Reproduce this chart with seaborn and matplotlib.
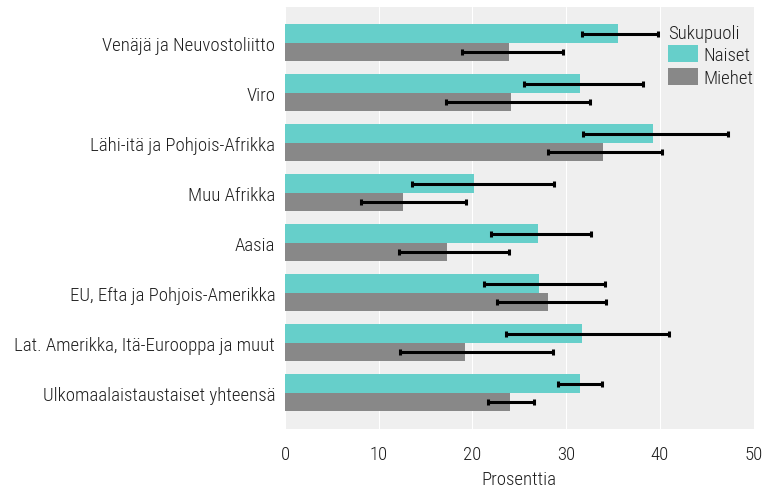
import numpy as np
import pandas as pd
import matplotlib
matplotlib.use("Agg")
import matplotlib.pyplot as plt
from matplotlib import font_manager
import seaborn as sns

categories = ["Venäjä ja Neuvostoliitto", "Viro", "Lähi-itä ja Pohjois-Afrikka", "Muu Afrikka",
              "Aasia", "EU, Efta ja Pohjois-Amerikka", "Lat. Amerikka, Itä-Eurooppa ja muut",
              "Ulkomaalaistaustaiset yhteensä"]
groups = ["Naiset", "Miehet"]

naiset = [35.5, 31.5, 39.3, 20.2, 27.0, 27.1, 31.7, 31.5]
naiset_low = [31.7, 25.5, 31.8, 13.6, 22.0, 21.2, 23.6, 29.1]
naiset_high = [39.8, 38.2, 47.3, 28.7, 32.7, 34.1, 41.0, 33.8]

miehet = [23.9, 24.1, 33.9, 12.6, 17.3, 28.1, 19.2, 24.0]
miehet_low = [18.9, 17.2, 28.1, 8.1, 12.2, 22.6, 12.3, 21.7]
miehet_high = [29.7, 32.6, 40.2, 19.3, 23.9, 34.3, 28.6, 26.6]

colors = {"Naiset": "#66CFCA", "Miehet": "#888888"}

df = pd.DataFrame({
    "alue": categories * 2,
    "Sukupuoli": ["Naiset"] * len(categories) + ["Miehet"] * len(categories),
    "arvo": naiset + miehet,
    "ala": naiset_low + miehet_low,
    "yla": naiset_high + miehet_high,
})

sns.set_style("darkgrid", {"axes.facecolor": "#EFEFEF", "grid.color": "white", "grid.linewidth": 1.3})

# narrow font if one is around, otherwise Roboto a bit smaller
installed = {f.name for f in font_manager.fontManager.ttflist}
narrow = [n for n in ["Liberation Sans Narrow", "Roboto Condensed", "Arial Narrow"] if n in installed]
if narrow:
    plt.rcParams["font.family"] = [narrow[0], "DejaVu Sans"]
    fs = 13.5
else:
    plt.rcParams["font.family"] = ["Roboto", "DejaVu Sans"]
    fs = 12
plt.rcParams["font.weight"] = "light"
plt.rcParams["axes.labelweight"] = "light"
txt = "#1e1e1e"

fig, ax = plt.subplots(figsize=(7.65, 4.89), dpi=100)
fig.subplots_adjust(left=0.3725, right=0.985, top=0.984, bottom=0.121)

sns.barplot(data=df, y="alue", x="arvo", hue="Sukupuoli", order=categories, hue_order=groups,
            palette=colors, orient="h", width=0.74, saturation=1, errorbar=None,
            linewidth=0, ax=ax)

# error bars from the bar centres
for cont, g in zip(ax.containers, groups):
    sub = df[df["Sukupuoli"] == g].set_index("alue").loc[categories]
    ys = [p.get_y() + p.get_height() / 2 for p in cont.patches]
    vals = sub["arvo"].values
    err = np.vstack([vals - sub["ala"].values, sub["yla"].values - vals])
    ax.errorbar(vals, ys, xerr=err, fmt="none", ecolor="black", elinewidth=2.2,
                capsize=2.0, capthick=2.2, zorder=5)

ax.set_xlim(0, 50)
ax.set_ylim(7.72, -0.72)
ax.set_xticks([0, 10, 20, 30, 40, 50])
ax.set_ylabel("")
ax.set_xlabel("Prosenttia", fontsize=fs, color=txt, labelpad=5)
ax.tick_params(axis="x", labelsize=fs, colors=txt, length=0, pad=12)
ax.tick_params(axis="y", labelsize=fs, colors=txt, length=0, pad=7)
ax.grid(axis="y", visible=False)
for s in ax.spines.values():
    s.set_visible(False)

leg = ax.legend(title="Sukupuoli", loc="upper left", bbox_to_anchor=(0.818, 0.96), frameon=False,
                fontsize=fs, title_fontsize=fs, handlelength=1.6, handleheight=1.0,
                handletextpad=0.3, borderaxespad=0, borderpad=0, labelspacing=0.2,
                alignment="left")
for t in leg.get_texts():
    t.set_color(txt)
leg.get_title().set_color(txt)

fig.savefig("out.png", dpi=100)
